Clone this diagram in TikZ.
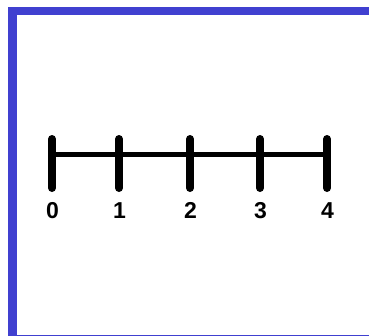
\documentclass[tikz,border=0pt]{standalone}
\usepackage{fontspec}
\setmainfont{Liberation Sans}
\definecolor{frameblue}{RGB}{64,64,208}
\begin{document}
\begin{tikzpicture}[x=1pt,y=-1pt,
  tickmark/.style={line width=8pt,line cap=round},
  axisline/.style={line width=5pt},
  numlabel/.style={font=\fontsize{23}{23}\selectfont\bfseries,inner sep=0pt,anchor=center}]
\useasboundingbox (0,0) rectangle (369,335);
\begin{scope}
\clip (0,0) rectangle (369,335);
\fill[white] (0,0) rectangle (369,335);
\draw[frameblue,line width=8.5pt] (12.3,11) rectangle (380,339.4);
\end{scope}
\foreach \i/\x in {0/52,1/119,2/190,3/260,4/327}{
  \coordinate (t\i) at (\x,154.5);
  \coordinate (a\i) at (\x,139);
  \coordinate (b\i) at (\x,188);
  \draw[tickmark] (a\i) -- (b\i);
  \node[numlabel] (l\i) at (\x+0.5,210.5) {\i};
}
\draw[axisline] (t0) -- (t4);
\end{tikzpicture}
\end{document}
